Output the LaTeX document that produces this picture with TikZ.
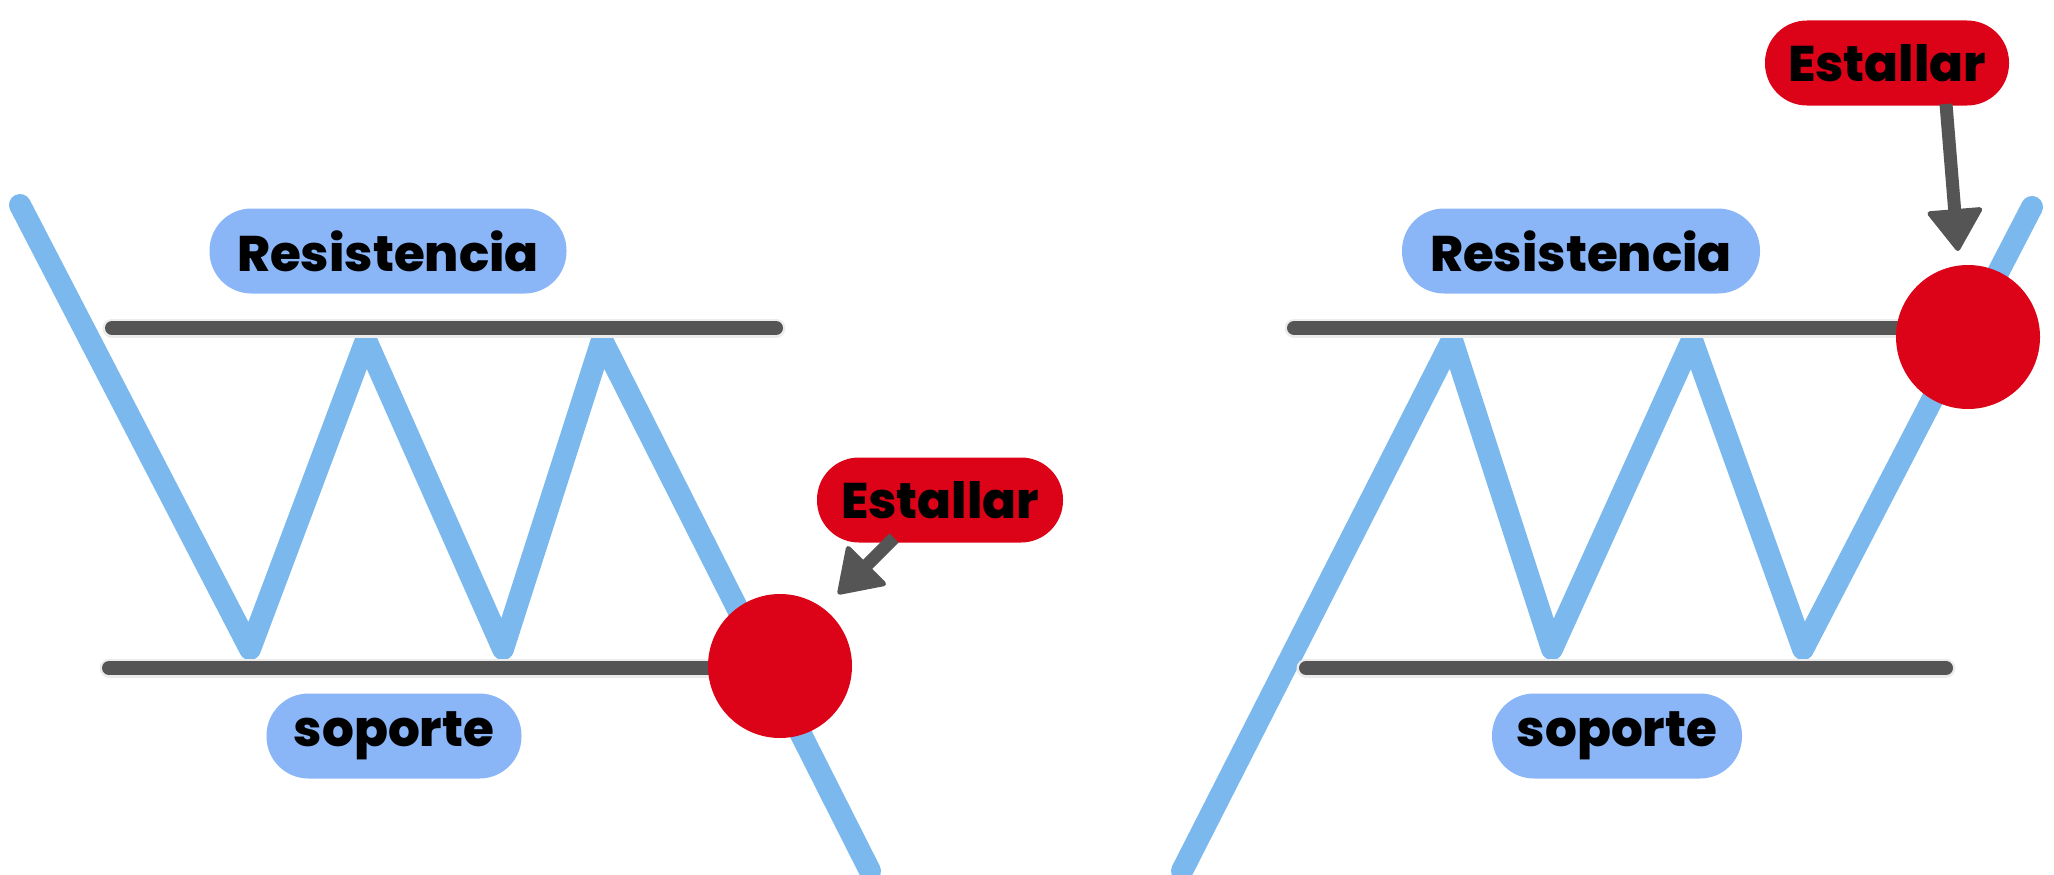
\documentclass[tikz,border=0pt]{standalone}
\usepackage{fontspec}
\setmainfont{Poppins}[BoldFont={Poppins ExtraBold}]
\usetikzlibrary{arrows.meta}
\definecolor{pillblue}{HTML}{8AB6F8}
\definecolor{zigblue}{HTML}{7BB8EE}
\definecolor{popred}{HTML}{DC0318}
\definecolor{linegray}{HTML}{555555}
\definecolor{halogray}{HTML}{ECECEC}
\tikzset{
  pillb/.style={fill=pillblue, rounded corners=42pt, minimum height=85pt, inner sep=0pt, text=black, font=\fontsize{50}{60}\selectfont\bfseries},
  pillr/.style={fill=popred, rounded corners=42pt, minimum height=85pt, inner sep=0pt, text=black, font=\fontsize{50}{60}\selectfont\bfseries},
  dot/.style={circle, fill=popred, minimum size=144pt, inner sep=0pt},
  zig/.style={draw=zigblue, line width=22pt, line cap=round, line join=round},
  halo/.style={draw=halogray, line width=19pt, line cap=round},
  bar/.style={draw=linegray, line width=14pt, line cap=round},
  arr/.style={draw=linegray, line width=13pt, -{Triangle[length=44pt,width=58pt,line width=5pt,round]}}
}
\begin{document}
\begin{tikzpicture}[x=1pt,y=-1pt]
\useasboundingbox (0,0) rectangle (2054,875);
% ---------- left panel ----------
\coordinate (zL0) at (20,205);
\coordinate (zL1) at (250,649);
\coordinate (zL2) at (366,340);
\coordinate (zL3) at (503,649);
\coordinate (zL4) at (602,340);
\coordinate (zL5) at (870,871);
\coordinate (rL1) at (112,328);
\coordinate (rL2) at (776,328);
\coordinate (sL1) at (109,668);
\coordinate (sL2) at (760,668);
\draw[zig] (zL0) -- (zL1) -- (zL2) -- (zL3) -- (zL4) -- (zL5);
\draw[halo] (rL1) -- (rL2);
\draw[halo] (sL1) -- (sL2);
\draw[bar] (rL1) -- (rL2);
\draw[bar] (sL1) -- (sL2);
\node[dot] (cL) at (780,666) {};
\node[pillb, minimum width=357pt] (resL) at (388,251) {Resistencia};
\node[pillb, minimum width=255pt] (sopL) at (394,736) {soporte};
\node[pillr, minimum width=246pt] (estL) at (940,500) {Estallar};
\coordinate (aL1) at (894,538);
\coordinate (aL2) at (838,594);
\draw[arr] (aL1) -- (aL2);
% ---------- right panel ----------
\coordinate (zR0) at (1182,871);
\coordinate (zR1) at (1452,340);
\coordinate (zR2) at (1552,649);
\coordinate (zR3) at (1692,340);
\coordinate (zR4) at (1803,649);
\coordinate (zR5) at (2032,207);
\coordinate (rR1) at (1294,328);
\coordinate (rR2) at (1950,328);
\coordinate (sR1) at (1306,668);
\coordinate (sR2) at (1946,668);
\draw[zig] (zR0) -- (zR1) -- (zR2) -- (zR3) -- (zR4) -- (zR5);
\draw[halo] (rR1) -- (rR2);
\draw[halo] (sR1) -- (sR2);
\draw[bar] (rR1) -- (rR2);
\draw[bar] (sR1) -- (sR2);
\node[dot] (cR) at (1968,337) {};
\node[pillb, minimum width=358pt] (resR) at (1581,251) {Resistencia};
\node[pillb, minimum width=250pt] (sopR) at (1617,736) {soporte};
\node[pillr, minimum width=244pt] (estR) at (1887,63) {Estallar};
\coordinate (aR1) at (1946,104);
\coordinate (aR2) at (1958,251);
\draw[arr] (aR1) -- (aR2);
\end{tikzpicture}
\end{document}
